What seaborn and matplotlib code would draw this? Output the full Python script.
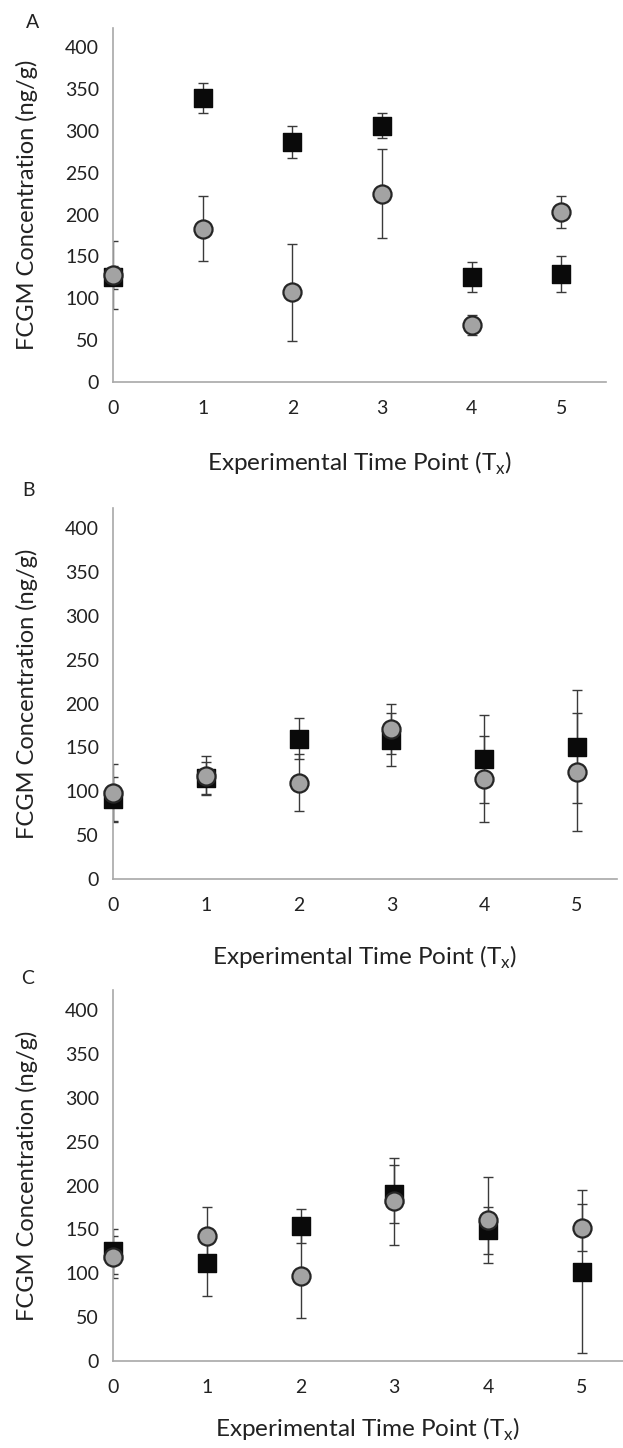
import matplotlib
matplotlib.use("Agg")
import matplotlib.pyplot as plt
import pandas as pd
import seaborn as sns

# time points
time_points = [0, 1, 2, 3, 4, 5]

# panel A
a_square = [125, 339, 287, 306, 125, 129]
a_square_err = [14, 18, 19, 15, 18, 22]
a_circle = [128, 183, 107, 225, 68, 203]
a_circle_err = [41, 39, 58, 53, 12, 19]

# panel B
b_square = [91, 115, 160, 159, 137, 151]
b_square_err = [25, 18, 23, 30, 50, 64]
b_circle = [98, 118, 110, 171, 114, 122]
b_circle_err = [33, 22, 33, 28, 49, 67]

# panel C
c_square = [125, 112, 154, 190, 149, 102]
c_square_err = [26, 38, 19, 33, 27, 93]
c_circle = [119, 142, 97, 182, 161, 152]
c_circle_err = [24, 34, 48, 50, 49, 27]

panel_letters = ["A", "B", "C"]
y_ticks = [0, 50, 100, 150, 200, 250, 300, 350, 400]

sns.set_style("white")
plt.rcParams["font.family"] = ["Lato", "DejaVu Sans"]
plt.rcParams["mathtext.fontset"] = "custom"
plt.rcParams["mathtext.rm"] = "Lato"

W, H = 623, 1448
fig = plt.figure(figsize=(W / 100, H / 100), dpi=100)

# pixel boxes: left, right, top, bottom, xmax, xlabel offset, letter pos
boxes = [
    (113, 606, 28, 382, 5.5, 81, (33, 22)),
    (113, 617, 508, 879, 5.43, 78, (28, 490)),
    (113, 623, 990, 1361, 5.44, 68, (28, 978)),
]

panels = [
    (a_square, a_square_err, a_circle, a_circle_err),
    (b_square, b_square_err, b_circle, b_circle_err),
    (c_square, c_square_err, c_circle, c_circle_err),
]

axis_grey = "#a8a8a8"
text_col = "#222222"

for (sq, sq_err, ci, ci_err), box, letter in zip(panels, boxes, panel_letters):
    left, right, top, bottom, xmax, xl_off, lpos = box
    ax = fig.add_axes([left / W, 1 - bottom / H, (right - left) / W, (bottom - top) / H])

    df = pd.DataFrame({
        "time": time_points * 2,
        "value": sq + ci,
        "err": sq_err + ci_err,
        "group": ["square"] * 6 + ["circle"] * 6,
    })

    sq_df = df[df["group"] == "square"]
    ci_df = df[df["group"] == "circle"]

    for d in (sq_df, ci_df):
        ax.errorbar(d["time"], d["value"], yerr=d["err"], fmt="none",
                    ecolor="#3a3a3a", elinewidth=1.0, capsize=3.5, capthick=1.0,
                    zorder=2)

    sns.scatterplot(data=sq_df, x="time", y="value", marker="s", s=160,
                    color="#0a0a0a", edgecolor="#0a0a0a", linewidth=1,
                    ax=ax, zorder=3, clip_on=False, legend=False)
    sns.scatterplot(data=ci_df, x="time", y="value", marker="o", s=170,
                    color="#a3a3a3", edgecolor="#262626", linewidth=1.6,
                    ax=ax, zorder=4, clip_on=False, legend=False)

    ax.set_xlim(0, xmax)
    ax.set_ylim(0, 423)
    ax.set_xticks(time_points)
    ax.set_yticks(y_ticks)

    for side in ("top", "right"):
        ax.spines[side].set_visible(False)
    for side in ("left", "bottom"):
        ax.spines[side].set_color(axis_grey)
        ax.spines[side].set_linewidth(1.2)

    ax.tick_params(axis="both", direction="out", length=5, width=1.1,
                   color=axis_grey, labelsize=14, labelcolor=text_col)
    ax.tick_params(axis="x", pad=8)
    ax.tick_params(axis="y", pad=5)

    ax.set_ylabel("FCGM Concentration (ng/g)", fontsize=17, color=text_col)
    ax.yaxis.set_label_coords(-(113 - 27) / (right - left), 0.5)
    ax.yaxis.label.set_va("center")

    ax.set_xlabel(r"Experimental Time Point (T$_\mathregular{x}$)", fontsize=17.5, color=text_col)
    ax.xaxis.set_label_coords(0.5, -xl_off / (bottom - top))
    ax.xaxis.label.set_va("center")

    fig.text(lpos[0] / W, 1 - lpos[1] / H, letter, fontsize=14,
             color=text_col, ha="center", va="center")

fig.savefig("out.png", dpi=100)
